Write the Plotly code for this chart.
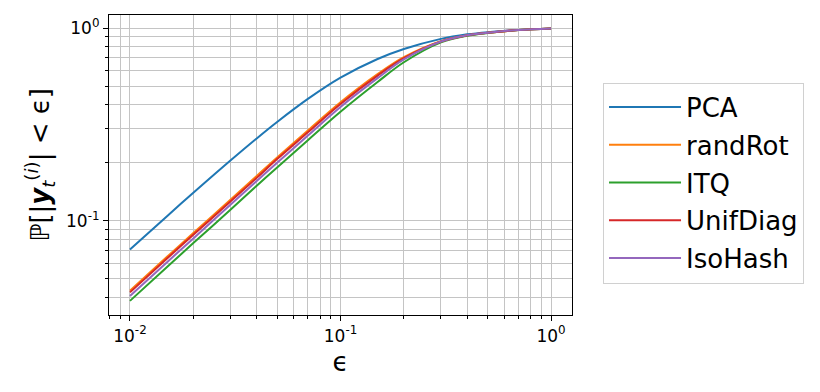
import plotly.graph_objects as go

# ---- data (log-log curves) ----
eps = [0.01, 0.015, 0.02, 0.03, 0.04, 0.05, 0.07, 0.1, 0.15, 0.2, 0.3, 0.4, 0.5, 0.7, 1.0]

pca       = [0.071, 0.1057, 0.1397, 0.2054, 0.2676, 0.3257, 0.429, 0.553, 0.691, 0.779, 0.879, 0.928, 0.953, 0.979, 0.996]
rand_rot  = [0.0434, 0.065, 0.0864, 0.1286, 0.1708, 0.213, 0.294, 0.412, 0.577, 0.707, 0.856, 0.918, 0.945, 0.978, 0.996]
itq       = [0.0384, 0.0576, 0.0766, 0.114, 0.152, 0.189, 0.262, 0.368, 0.525, 0.665, 0.843, 0.912, 0.943, 0.977, 0.996]
unif_diag = [0.0425, 0.0637, 0.0846, 0.1259, 0.167, 0.209, 0.288, 0.404, 0.567, 0.698, 0.852, 0.917, 0.945, 0.978, 0.996]
iso_hash  = [0.0407, 0.061, 0.081, 0.121, 0.161, 0.2, 0.277, 0.39, 0.55, 0.688, 0.852, 0.918, 0.946, 0.978, 0.996]

names = ["PCA", "randRot", "ITQ", "UnifDiag", "IsoHash"]
series = [pca, rand_rot, itq, unif_diag, iso_hash]
colors = ["#1f77b4", "#ff7f0e", "#2ca02c", "#d62728", "#9467bd"]

x_major = [0.01, 0.1, 1.0]
x_major_text = ["10<sup>-2</sup>", "10<sup>-1</sup>", "10<sup>0</sup>"]
x_minor = [0.008, 0.009] + [k * 0.01 for k in range(2, 10)] + [k * 0.1 for k in range(2, 10)]

y_major = [0.1, 1.0]
y_major_text = ["10<sup>-1</sup>", "10<sup>0</sup>"]
y_minor = [k * 0.01 for k in range(4, 10)] + [k * 0.1 for k in range(2, 10)]

FONT = "DejaVu Sans"
GRID = "#c4c4c4"

fig = go.Figure()

for i, (name, ys, col) in enumerate(zip(names, series, colors)):
    fig.add_trace(
        go.Scatter(
            x=eps, y=ys,
            mode="lines",
            name=name,
            legendgroup=f"g{i}",
            line=dict(color=col, width=2, shape="spline", smoothing=1.0),
        )
    )

axis_common = dict(
    type="log",
    automargin=False,
    showline=True, linecolor="black", linewidth=1.2, mirror=True,
    ticks="outside", ticklen=5, tickwidth=1, tickcolor="black",
    showgrid=True, gridcolor=GRID, gridwidth=1,
    zeroline=False,
    tickfont=dict(family=FONT, size=17, color="black"),
)

fig.update_xaxes(
    **axis_common,
    range=[-2.0995, 0.0995],
    tickvals=x_major, ticktext=x_major_text,
    minor=dict(tickvals=x_minor, ticks="outside", ticklen=3, tickcolor="black",
               showgrid=True, gridcolor=GRID, gridwidth=1),
    title=dict(text="ϵ", font=dict(family=FONT, size=26, color="black"), standoff=8),
)

fig.update_yaxes(
    **axis_common,
    range=[-1.489, 0.068],
    tickvals=y_major, ticktext=y_major_text,
    minor=dict(tickvals=y_minor, ticks="outside", ticklen=3, tickcolor="black",
               showgrid=True, gridcolor=GRID, gridwidth=1),
    title=dict(
        text="ℙ[|<b><i>y</i></b><sub><i>t</i></sub><sup>(<i>i</i>)</sup>| &lt; ϵ]",
        font=dict(family=FONT, size=26, color="black"),
        standoff=8,
    ),
)

# the page body adds an 8px offset, so margins are trimmed by 8 on left/top
fig.update_layout(
    width=820, height=392,
    margin=dict(l=101, r=256, t=7, b=85, autoexpand=False),
    paper_bgcolor="white",
    plot_bgcolor="white",
    font=dict(family=FONT, color="black"),
    legend=dict(
        x=1.067, y=0.775, xanchor="left", yanchor="top",
        font=dict(family=FONT, size=26, color="black"),
        bordercolor="#d0d0d0", borderwidth=1,
        bgcolor="white",
        tracegroupgap=1,
        itemwidth=72,
    ),
)

fig.write_html("out.html")
